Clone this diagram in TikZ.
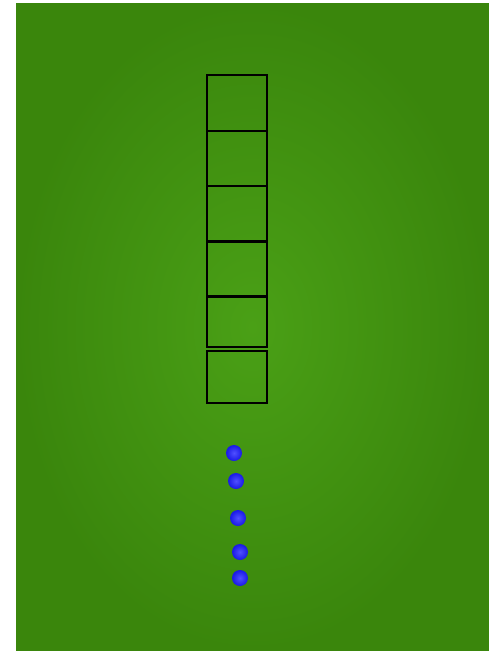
\documentclass[tikz,border=0pt]{standalone}
\usetikzlibrary{shadings}
\definecolor{grin}{RGB}{74,160,22}
\definecolor{grout}{RGB}{58,134,12}
\definecolor{bin}{RGB}{80,80,255}
\definecolor{bout}{RGB}{25,25,230}
\begin{document}
\begin{tikzpicture}[x=1pt,y=-1pt,
  cell/.style={draw=black,line width=2pt,minimum width=60pt,inner sep=0pt,anchor=north west},
  ball/.style={circle,inner sep=0pt,minimum size=16pt,inner color=bin,outer color=bout,draw=none}]
\useasboundingbox (0,0) rectangle (489,651);
\fill[white] (0,0) rectangle (489,651);
\shade[inner color=grin,outer color=grout] (16,3) rectangle (489,651);
\node[cell,minimum height=56pt] (c1) at (206,74) {};
\node[cell,minimum height=55pt] (c2) at (206,130) {};
\node[cell,minimum height=55pt] (c3) at (206,185) {};
\node[cell,minimum height=55pt] (c4) at (206,240.5) {};
\node[cell,minimum height=51pt] (c5) at (206,295) {};
\node[cell,minimum height=52pt] (c6) at (206,350) {};
\node[ball] (d1) at (234,453) {};
\node[ball] (d2) at (236,481) {};
\node[ball] (d3) at (238,518) {};
\node[ball] (d4) at (240,552) {};
\node[ball] (d5) at (240,578) {};
\end{tikzpicture}
\end{document}
